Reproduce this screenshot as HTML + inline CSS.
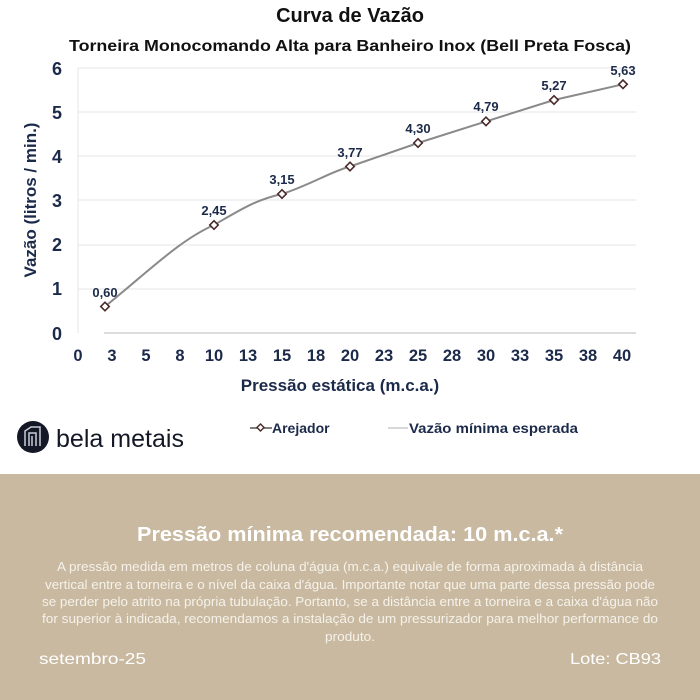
<!DOCTYPE html>
<html><head><meta charset="utf-8"><style>
html,body{margin:0;padding:0;background:#fff;}
svg{display:block;font-family:"Liberation Sans",sans-serif;}
</style></head><body>
<svg width="700" height="700" viewBox="0 0 700 700" xmlns="http://www.w3.org/2000/svg">
<rect width="700" height="700" fill="#fff"/>
<text x="350" y="22" text-anchor="middle" font-size="20" font-weight="bold" fill="#111">Curva de Vazão</text>
<text x="350" y="51" text-anchor="middle" font-size="15.5" font-weight="bold" fill="#111" textLength="562" lengthAdjust="spacingAndGlyphs">Torneira Monocomando Alta para Banheiro Inox (Bell Preta Fosca)</text>
<g stroke="#e6e6e6" stroke-width="1">
<line x1="78" x2="636" y1="68" y2="68"/><line x1="78" x2="636" y1="112" y2="112"/><line x1="78" x2="636" y1="156" y2="156"/><line x1="78" x2="636" y1="200" y2="200"/><line x1="78" x2="636" y1="245" y2="245"/><line x1="78" x2="636" y1="289" y2="289"/>
<line x1="78" x2="78" y1="68" y2="333"/>
</g>
<line x1="104" x2="636" y1="333" y2="333" stroke="#d0d0d0" stroke-width="1.5"/>
<g font-size="18" font-weight="bold" fill="#1c2a4a" text-anchor="end">
<text x="62" y="75">6</text><text x="62" y="119">5</text><text x="62" y="163">4</text><text x="62" y="207">3</text><text x="62" y="251">2</text><text x="62" y="295">1</text><text x="62" y="340">0</text>
</g>
<g font-size="16.5" font-weight="bold" fill="#1c2a4a" text-anchor="middle">
<text x="78" y="361">0</text><text x="112" y="361">3</text><text x="146" y="361">5</text><text x="180" y="361">8</text><text x="214" y="361">10</text><text x="248" y="361">13</text><text x="282" y="361">15</text><text x="316" y="361">18</text><text x="350" y="361">20</text><text x="384" y="361">23</text><text x="418" y="361">25</text><text x="452" y="361">28</text><text x="486" y="361">30</text><text x="520" y="361">33</text><text x="554" y="361">35</text><text x="588" y="361">38</text><text x="622" y="361">40</text>
</g>
<text x="340" y="391" text-anchor="middle" font-size="17" font-weight="bold" fill="#1c2a4a">Pressão estática (m.c.a.)</text>
<text transform="translate(36,200) rotate(-90)" text-anchor="middle" font-size="17" font-weight="bold" fill="#1c2a4a">Vazão (litros / min.)</text>
<path d="M105,306.5 C150,270 180,240 214,225 C240,210 255,200 282,194 C310,185 330,172 350,166.5 L418,143 L486,121.4 L554,100 L623,84.3" fill="none" stroke="#8a8a8a" stroke-width="2"/>
<g fill="#fff" stroke="#4a2a2a" stroke-width="1.6">
<rect x="102" y="303.5" width="6" height="6" transform="rotate(45 105 306.5)"/>
<rect x="211" y="222" width="6" height="6" transform="rotate(45 214 225)"/>
<rect x="279" y="191" width="6" height="6" transform="rotate(45 282 194)"/>
<rect x="347" y="163.5" width="6" height="6" transform="rotate(45 350 166.5)"/>
<rect x="415" y="140" width="6" height="6" transform="rotate(45 418 143)"/>
<rect x="483" y="118.4" width="6" height="6" transform="rotate(45 486 121.4)"/>
<rect x="551" y="97" width="6" height="6" transform="rotate(45 554 100)"/>
<rect x="620" y="81.3" width="6" height="6" transform="rotate(45 623 84.3)"/>
</g>
<g font-size="13" font-weight="bold" fill="#1c2a4a" text-anchor="middle">
<text x="105" y="297">0,60</text><text x="214" y="215">2,45</text><text x="282" y="184">3,15</text><text x="350" y="157">3,77</text><text x="418" y="133">4,30</text><text x="486" y="111">4,79</text><text x="554" y="90">5,27</text><text x="623" y="75">5,63</text>
</g>
<circle cx="33" cy="437" r="16" fill="#141826"/>
<g stroke="#c8ccd8" stroke-width="1.5" fill="none"><path d="M25,446 V431 L31,427 H40 V446"/><path d="M29,446 V433 H36 V446"/><path d="M32,436 V446"/></g>
<text x="56" y="447" font-size="25" fill="#141826" textLength="128" lengthAdjust="spacingAndGlyphs">bela metais</text>
<line x1="250" x2="272" y1="428" y2="428" stroke="#555" stroke-width="1.5"/>
<rect x="258" y="425" width="5" height="5" fill="#fff" stroke="#4a2a2a" stroke-width="1.4" transform="rotate(45 260.5 427.5)"/>
<text x="272" y="433" font-size="14" font-weight="bold" fill="#1c2a4a">Arejador</text>
<line x1="388" x2="408" y1="428" y2="428" stroke="#ccc" stroke-width="1.5"/>
<text x="409" y="433" font-size="14" font-weight="bold" fill="#1c2a4a" textLength="169" lengthAdjust="spacingAndGlyphs">Vazão mínima esperada</text>
<rect x="0" y="474" width="700" height="226" fill="#c8b9a0"/>
<text x="350" y="541" text-anchor="middle" font-size="20" font-weight="bold" fill="#fff" textLength="426" lengthAdjust="spacingAndGlyphs">Pressão mínima recomendada: 10 m.c.a.*</text>
<g font-size="12.5" fill="#f6f2ea" text-anchor="middle">
<text x="350" y="571" textLength="586" lengthAdjust="spacingAndGlyphs">A pressão medida em metros de coluna d'água (m.c.a.) equivale de forma aproximada à distância</text>
<text x="350" y="589" textLength="610" lengthAdjust="spacingAndGlyphs">vertical entre a torneira e o nível da caixa d'água. Importante notar que uma parte dessa pressão pode</text>
<text x="350" y="606" textLength="616" lengthAdjust="spacingAndGlyphs">se perder pelo atrito na própria tubulação. Portanto, se a distância entre a torneira e a caixa d'água não</text>
<text x="350" y="623" textLength="616" lengthAdjust="spacingAndGlyphs">for superior à indicada, recomendamos a instalação de um pressurizador para melhor performance do</text>
<text x="350" y="641" textLength="50" lengthAdjust="spacingAndGlyphs">produto.</text>
</g>
<text x="39" y="664" font-size="16" fill="#fff" textLength="107" lengthAdjust="spacingAndGlyphs">setembro-25</text>
<text x="661" y="664" font-size="16" fill="#fff" text-anchor="end" textLength="91" lengthAdjust="spacingAndGlyphs">Lote: CB93</text>
</svg>
</body></html>
